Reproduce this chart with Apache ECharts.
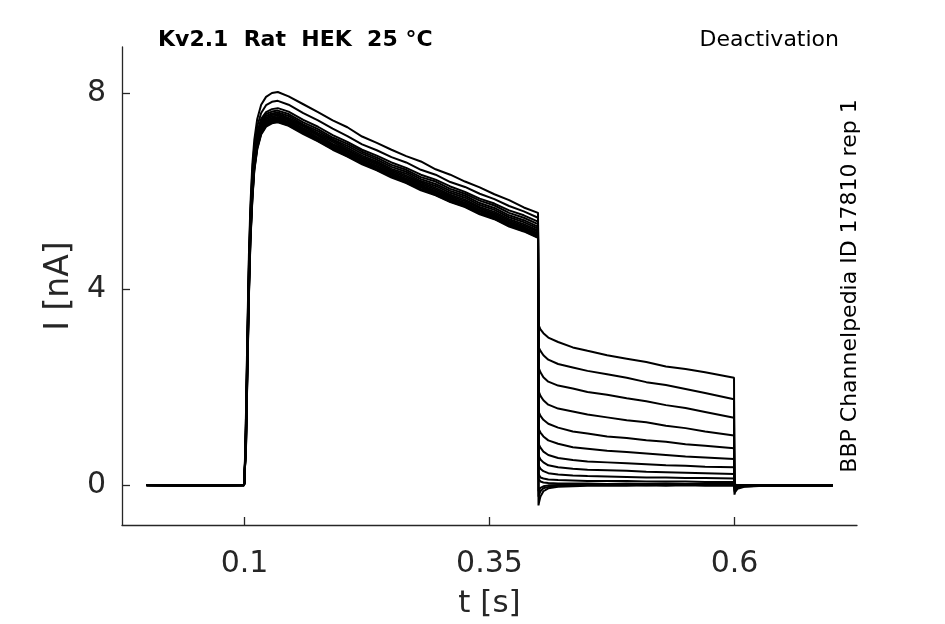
<!DOCTYPE html>
<html>
<head>
<meta charset="utf-8">
<title>Kv2.1 Deactivation</title>
<script src="https://cdn.jsdelivr.net/npm/echarts@6/dist/echarts.min.js"></script>
<style>
  html, body { margin: 0; padding: 0; background: #fff; }
  #main { width: 945px; height: 624px; }
</style>
</head>
<body>
<div id="main"></div>
<script>
// sample times (s), shared by all sweeps
var tSec = [0, 0.02, 0.04, 0.06, 0.08, 0.0995,
  0.1, 0.1015, 0.103, 0.1045, 0.106, 0.108, 0.11, 0.113, 0.117, 0.122, 0.128, 0.134,
  0.145, 0.16, 0.175, 0.19, 0.205, 0.22, 0.235, 0.25, 0.265, 0.28, 0.295, 0.31, 0.325, 0.34, 0.355, 0.37, 0.385, 0.3995,
  0.4, 0.4005, 0.402, 0.405, 0.41, 0.42, 0.435, 0.45, 0.47, 0.49, 0.51, 0.53, 0.55, 0.57, 0.5995,
  0.6, 0.6005, 0.603, 0.61, 0.63, 0.65, 0.67, 0.7];

// current (nA) per sweep
var sweep01 = [-0.01, 0, -0.02, -0.01, 0, -0.01,
  0.1, 1.45, 3.2, 4.7, 5.7, 6.55, 7.05, 7.48, 7.77, 7.93, 8.01, 8.03,
  7.94, 7.78, 7.62, 7.45, 7.31, 7.12, 6.99, 6.85, 6.72, 6.61, 6.45, 6.34, 6.2, 6.08, 5.94, 5.82, 5.67, 5.56,
  3.3, 3.25, 3.18, 3.1, 3.01, 2.92, 2.81, 2.74, 2.65, 2.58, 2.51, 2.42, 2.37, 2.3, 2.19,
  -0.2, -0.15, -0.08, -0.04, -0.02, -0.01, -0.02, -0.01];
var sweep02 = [0, -0.01, -0.01, 0, -0.01, 0,
  0.08, 1.35, 3.05, 4.55, 5.55, 6.42, 6.92, 7.33, 7.6, 7.76, 7.83, 7.85,
  7.77, 7.6, 7.45, 7.28, 7.13, 6.96, 6.84, 6.7, 6.59, 6.44, 6.34, 6.19, 6.09, 5.95, 5.84, 5.7, 5.59, 5.46,
  2.85, 2.8, 2.74, 2.65, 2.56, 2.47, 2.4, 2.33, 2.26, 2.19, 2.1, 2.04, 1.96, 1.88, 1.75,
  -0.15, -0.11, -0.06, -0.03, -0.02, -0.02, -0.01, -0.02];
var sweep03 = [-0.01, -0.01, 0, -0.02, 0, -0.01,
  0.07, 1.25, 2.95, 4.45, 5.48, 6.32, 6.82, 7.21, 7.48, 7.62, 7.68, 7.7,
  7.63, 7.46, 7.32, 7.15, 7.01, 6.85, 6.73, 6.59, 6.48, 6.34, 6.24, 6.1, 5.99, 5.85, 5.75, 5.61, 5.51, 5.38,
  2.4, 2.36, 2.3, 2.2, 2.11, 2.03, 1.97, 1.9, 1.84, 1.77, 1.71, 1.63, 1.57, 1.49, 1.37,
  -0.12, -0.09, -0.05, -0.03, -0.02, -0.01, -0.02, -0.01];
var sweep04 = [0, -0.01, -0.01, -0.01, 0, 0,
  0.06, 1.18, 2.88, 4.38, 5.42, 6.27, 6.77, 7.17, 7.44, 7.58, 7.63, 7.65,
  7.58, 7.41, 7.27, 7.1, 6.97, 6.81, 6.69, 6.54, 6.44, 6.29, 6.2, 6.05, 5.95, 5.81, 5.71, 5.56, 5.46, 5.33,
  1.92, 1.88, 1.82, 1.73, 1.64, 1.56, 1.5, 1.44, 1.38, 1.32, 1.28, 1.21, 1.16, 1.09, 1.01,
  -0.1, -0.07, -0.04, -0.02, -0.02, -0.01, -0.01, -0.02];
var sweep05 = [-0.01, 0, -0.01, -0.02, -0.01, 0,
  0.05, 1.12, 2.82, 4.32, 5.37, 6.22, 6.73, 7.13, 7.4, 7.54, 7.59, 7.61,
  7.54, 7.37, 7.23, 7.06, 6.93, 6.77, 6.65, 6.5, 6.4, 6.25, 6.15, 6.01, 5.91, 5.76, 5.66, 5.51, 5.41, 5.28,
  1.5, 1.47, 1.41, 1.33, 1.25, 1.17, 1.09, 1.05, 0.99, 0.96, 0.91, 0.88, 0.83, 0.8, 0.75,
  -0.08, -0.06, -0.04, -0.02, -0.01, -0.02, -0.01, -0.01];
var sweep06 = [0, -0.01, 0, -0.01, -0.01, -0.01,
  0.05, 1.07, 2.72, 4.22, 5.31, 6.16, 6.69, 7.09, 7.36, 7.5, 7.56, 7.58,
  7.5, 7.35, 7.19, 7.04, 6.89, 6.73, 6.61, 6.46, 6.36, 6.21, 6.11, 5.97, 5.87, 5.72, 5.62, 5.47, 5.37, 5.24,
  1.15, 1.12, 1.07, 0.99, 0.91, 0.84, 0.77, 0.74, 0.7, 0.67, 0.64, 0.61, 0.58, 0.56, 0.53,
  -0.07, -0.05, -0.03, -0.02, -0.01, -0.01, -0.02, -0.01];
var sweep07 = [-0.01, -0.01, -0.01, 0, -0.01, -0.01,
  0.04, 1.02, 2.67, 4.17, 5.26, 6.11, 6.65, 7.06, 7.33, 7.47, 7.53, 7.55,
  7.47, 7.33, 7.16, 7.01, 6.85, 6.7, 6.58, 6.43, 6.32, 6.18, 6.07, 5.93, 5.83, 5.68, 5.58, 5.43, 5.33, 5.2,
  0.84, 0.81, 0.76, 0.68, 0.61, 0.55, 0.51, 0.48, 0.46, 0.44, 0.42, 0.4, 0.39, 0.37, 0.36,
  -0.06, -0.04, -0.03, -0.02, -0.01, -0.02, -0.01, -0.01];
var sweep08 = [0, -0.01, -0.02, -0.01, 0, -0.01,
  0.04, 0.97, 2.62, 4.12, 5.21, 6.06, 6.61, 7.03, 7.3, 7.44, 7.5, 7.52,
  7.45, 7.29, 7.14, 6.97, 6.83, 6.67, 6.55, 6.4, 6.29, 6.15, 6.04, 5.9, 5.8, 5.65, 5.55, 5.4, 5.3, 5.17,
  0.6, 0.57, 0.52, 0.46, 0.4, 0.36, 0.33, 0.31, 0.3, 0.29, 0.27, 0.26, 0.25, 0.24, 0.22,
  -0.05, -0.04, -0.02, -0.02, -0.01, -0.01, -0.01, -0.02];
var sweep09 = [-0.01, 0, -0.01, -0.01, -0.02, 0,
  0.03, 0.92, 2.57, 4.07, 5.16, 6.01, 6.57, 7.0, 7.27, 7.42, 7.48, 7.5,
  7.42, 7.27, 7.1, 6.95, 6.8, 6.64, 6.52, 6.37, 6.26, 6.12, 6.01, 5.87, 5.77, 5.62, 5.52, 5.37, 5.27, 5.14,
  0.4, 0.37, 0.33, 0.28, 0.24, 0.21, 0.19, 0.18, 0.17, 0.16, 0.15, 0.15, 0.14, 0.14, 0.13,
  -0.04, -0.03, -0.02, -0.01, -0.02, -0.01, -0.01, -0.01];
var sweep10 = [0, -0.01, -0.01, -0.02, -0.01, -0.01,
  0.03, 0.87, 2.52, 4.02, 5.11, 5.96, 6.54, 6.97, 7.25, 7.4, 7.46, 7.48,
  7.41, 7.24, 7.09, 6.92, 6.78, 6.62, 6.5, 6.35, 6.24, 6.1, 5.99, 5.85, 5.75, 5.6, 5.5, 5.35, 5.25, 5.12,
  0.22, 0.18, 0.15, 0.13, 0.11, 0.1, 0.09, 0.08, 0.08, 0.08, 0.07, 0.07, 0.07, 0.06, 0.06,
  -0.03, -0.03, -0.02, -0.01, -0.01, -0.02, -0.01, -0.01];
var sweep11 = [-0.01, -0.01, 0, -0.01, -0.01, 0,
  0.03, 0.82, 2.47, 3.97, 5.06, 5.91, 6.51, 6.94, 7.22, 7.38, 7.44, 7.46,
  7.38, 7.23, 7.06, 6.91, 6.75, 6.61, 6.47, 6.34, 6.21, 6.08, 5.96, 5.84, 5.72, 5.59, 5.47, 5.34, 5.22, 5.1,
  0.12, 0.09, 0.07, 0.05, 0.04, 0.03, 0.03, 0.03, 0.02, 0.03, 0.02, 0.03, 0.02, 0.02, 0.02,
  -0.03, -0.02, -0.02, -0.01, -0.01, -0.01, -0.02, -0.01];
var sweep12 = [0, -0.01, -0.01, -0.01, 0, -0.01,
  0.02, 0.79, 2.42, 3.92, 5.02, 5.88, 6.48, 6.91, 7.2, 7.36, 7.42, 7.44,
  7.37, 7.2, 7.05, 6.88, 6.74, 6.58, 6.46, 6.31, 6.2, 6.05, 5.95, 5.81, 5.71, 5.56, 5.46, 5.31, 5.21, 5.08,
  -0.13, -0.1, -0.06, -0.03, -0.01, 0.0, 0.01, 0.01, 0.01, 0.02, 0.01, 0.02, 0.02, 0.01, 0.02,
  -0.02, -0.02, -0.01, -0.01, -0.02, -0.01, -0.01, -0.01];
var sweep13 = [-0.01, -0.01, -0.01, 0, -0.01, -0.01,
  0.02, 0.76, 2.38, 3.88, 4.98, 5.85, 6.45, 6.88, 7.18, 7.34, 7.41, 7.42,
  7.35, 7.19, 7.03, 6.87, 6.72, 6.57, 6.44, 6.3, 6.18, 6.04, 5.93, 5.79, 5.69, 5.55, 5.44, 5.3, 5.19, 5.06,
  -0.24, -0.2, -0.13, -0.07, -0.04, -0.02, -0.01, 0.0, 0.0, 0.0, -0.01, 0.0, 0.0, 0.0, 0.0,
  -0.02, -0.01, -0.01, -0.02, -0.01, -0.01, -0.02, -0.01];
var sweep14 = [0, -0.01, -0.02, -0.01, -0.01, 0,
  0.02, 0.73, 2.34, 3.84, 4.95, 5.82, 6.42, 6.86, 7.16, 7.32, 7.39, 7.41,
  7.34, 7.17, 7.02, 6.85, 6.71, 6.55, 6.43, 6.28, 6.17, 6.02, 5.92, 5.78, 5.68, 5.53, 5.43, 5.28, 5.18, 5.05,
  -0.42, -0.36, -0.24, -0.13, -0.07, -0.04, -0.03, -0.02, -0.02, -0.02, -0.01, -0.02, -0.01, -0.02, -0.02,
  -0.02, -0.02, -0.01, -0.01, -0.02, -0.01, -0.01, -0.02];

var sweeps = [sweep01, sweep02, sweep03, sweep04, sweep05, sweep06, sweep07,
  sweep08, sweep09, sweep10, sweep11, sweep12, sweep13, sweep14];

var xTicks = [0.1, 0.35, 0.6];
var yTicks = [0, 4, 8];

var axisColor = '#262626';
var fontName = 'DejaVu Sans';

var myChart = echarts.init(document.getElementById('main'), null, {renderer: 'canvas'});

var series = sweeps.map(function(vals, i){
	var pts = [];
	for (var k = 0; k < tSec.length; k++) {
		pts.push([tSec[k], vals[k]]);
	}
	return {
		name: 'sweep ' + (i + 1),
		type: 'line',
		data: pts,
		showSymbol: false,
		symbol: 'none',
		silent: true,
		lineStyle: {color: '#000', width: 2}
	};
});

var option = {
	animation: false,
	backgroundColor: '#fff',
	grid: {left: 122, top: 47, right: 88, bottom: 97},
	xAxis: {
		type: 'value',
		min: -0.025,
		max: 0.725,
		name: 't [s]',
		nameLocation: 'middle',
		nameGap: 63,
		nameTextStyle: {fontFamily: fontName, fontSize: 31, color: axisColor},
		axisLine: {show: true, onZero: false, lineStyle: {color: axisColor, width: 1.3}},
		axisTick: {show: true, inside: true, length: 8, customValues: xTicks, lineStyle: {color: axisColor, width: 1.3}},
		axisLabel: {customValues: xTicks, margin: 24, fontFamily: fontName, fontSize: 30, color: axisColor},
		splitLine: {show: false}
	},
	yAxis: {
		type: 'value',
		min: -0.82,
		max: 8.95,
		name: 'I [nA]',
		nameLocation: 'middle',
		nameGap: 42,
		nameRotate: 90,
		nameTextStyle: {fontFamily: fontName, fontSize: 33, color: axisColor},
		axisLine: {show: true, onZero: false, lineStyle: {color: axisColor, width: 1.3}},
		axisTick: {show: true, inside: true, length: 8, customValues: yTicks, lineStyle: {color: axisColor, width: 1.3}},
		axisLabel: {customValues: yTicks, margin: 16, fontFamily: fontName, fontSize: 30, color: axisColor},
		splitLine: {show: false}
	},
	graphic: [
		{
			type: 'text',
			x: 158, y: 40,
			style: {text: 'Kv2.1  Rat  HEK  25 °C', font: 'bold 22px "DejaVu Sans"', fill: '#000',
				textAlign: 'left', textVerticalAlign: 'middle'}
		},
		{
			type: 'text',
			x: 839, y: 40,
			style: {text: 'Deactivation', font: '22px "DejaVu Sans"', fill: '#000',
				textAlign: 'right', textVerticalAlign: 'middle'}
		},
		{
			type: 'text',
			x: 850, y: 286,
			rotation: Math.PI / 2,
			style: {text: 'BBP Channelpedia ID 17810 rep 1', font: '22px "DejaVu Sans"', fill: '#000',
				textAlign: 'center', textVerticalAlign: 'middle'}
		}
	],
	series: series
};

myChart.setOption(option);
</script>
</body>
</html>
